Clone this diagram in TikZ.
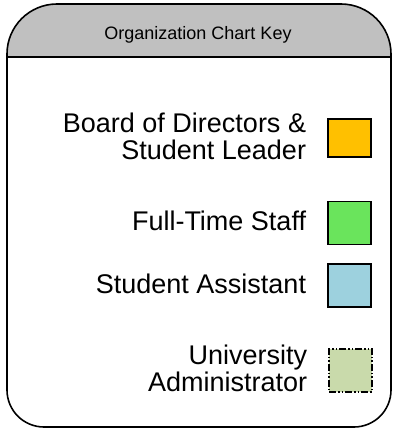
\documentclass[tikz,border=0pt]{standalone}
\usepackage{fontspec}
\setmainfont{Liberation Sans}
\usepackage{tikz}
\usetikzlibrary{positioning}
\definecolor{headgray}{HTML}{C0C0C0}
\definecolor{keyorange}{HTML}{FFC000}
\definecolor{keygreen}{HTML}{6AE45C}
\definecolor{keyblue}{HTML}{9DD1DE}
\definecolor{keykhaki}{HTML}{C9DAAB}
\tikzset{
  frame/.style={draw=black, line width=1.6pt},
  keybox/.style={rectangle, minimum width=43pt, minimum height=43pt, inner sep=0pt, draw=black, line width=1.5pt},
  keytext/.style={align=right, inner sep=0pt, yshift=2pt, font=\fontsize{27pt}{27pt}\selectfont},
  dashdot/.style={dash pattern=on 7pt off 2pt on 1.5pt off 2pt on 1.5pt off 2pt}
}

\begin{document}
\begin{tikzpicture}[
        x=1pt, y=1pt,
        node distance=21pt % <-- hueco entre texto y cuadro
    ]
        \useasboundingbox (0,0) rectangle (393,429);
        % cabecera gris
        \fill[headgray] (7,372) -- (7,375) arc (180:90:50) -- (341,425) arc (90:0:50) -- (391,372) -- cycle;
        \draw[frame] (7,372) -- (7,375) arc (180:90:50) -- (341,425) arc (90:0:50) -- (391,372);
        \draw[frame] (7,372) -- (391,372);
        % cuerpo
        \draw[frame] (7,372) -- (7,39) arc (180:270:37) -- (354,2) arc (270:360:37) -- (391,372);
        \node (titulo) [anchor=base, font=\fontsize{18pt}{18pt}\selectfont] at (198,389) {Organization Chart Key};

        \node (junta) [keybox, fill=keyorange, minimum height=38pt] at (349.5,291) {};
        \node (staff) [keybox, fill=keygreen] at (349.5,206) {};
        \node (asist) [keybox, fill=keyblue] at (349.5,143.5) {};
        \node (admin) [keybox, fill=keykhaki, dashdot] at (350.5,58.5) {};

        \node (juntatxt) [keytext, left=of junta] {Board of Directors \&\\ Student Leader};
        \node (stafftxt) [keytext, left=of staff] {Full-Time Staff};
        \node (asisttxt) [keytext, left=of asist] {Student Assistant};
        \node (admintxt) [keytext, left=of admin] {University\\ Administrator};
    \end{tikzpicture}
\end{document}
